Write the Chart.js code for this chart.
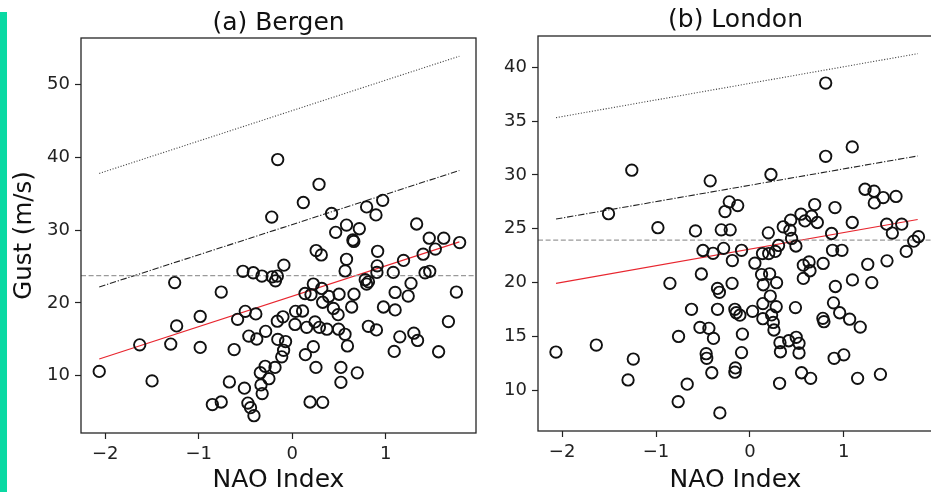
<!DOCTYPE html>
<html>
<head>
<meta charset="utf-8">
<script src="https://cdn.jsdelivr.net/npm/chart.js@4.4.0/dist/chart.umd.min.js"></script>
<style>
  html, body { margin: 0; padding: 0; background: #fff; overflow: hidden; width: 931px; height: 492px; }
  #edge { position: absolute; left: 0; top: 12px; width: 7px; height: 480px; background: #0ad9a3; }
  #ca { position: absolute; left: 0; top: 0; }
  #cb { position: absolute; left: 480px; top: 0; }
</style>
</head>
<body>
<div id="edge"></div>
<canvas id="ca" width="490" height="492"></canvas>
<canvas id="cb" width="470" height="492"></canvas>
<script>
// Winter NAO index vs. seasonal maximum gust, one point per winter
const bergenNao = [-2.065, -1.632, -1.50, -1.30, -1.258, -1.237, -0.985, -0.985, -0.855, -0.76,
  -0.76, -0.673, -0.622, -0.585, -0.528, -0.503, -0.512, -0.475, -0.465, -0.447,
  -0.41, -0.417, -0.39, -0.38, -0.342, -0.335, -0.322, -0.325, -0.29, -0.285,
  -0.25, -0.215, -0.22, -0.185, -0.18, -0.16, -0.156, -0.155, -0.16, -0.10,
  -0.09, -0.072, -0.093, -0.113, 0.029, 0.035, 0.11, 0.118, 0.136, 0.14,
  0.154, 0.19, 0.20, 0.225, 0.225, 0.243, 0.253, 0.255, 0.286, 0.29,
  0.31, 0.315, 0.325, 0.325, 0.37, 0.39, 0.42, 0.44, 0.464, 0.49,
  0.495, 0.50, 0.52, 0.52, 0.565, 0.564, 0.58, 0.58, 0.59, 0.635,
  0.648, 0.658, 0.66, 0.695, 0.717, 0.78, 0.795, 0.815, 0.795, 0.814,
  0.895, 0.90, 0.908, 0.905, 0.913, 0.967, 0.975, 1.08, 1.10, 1.10,
  1.09, 1.15, 1.19, 1.24, 1.27, 1.30, 1.33, 1.34, 1.40, 1.42,
  1.47, 1.465, 1.53, 1.565, 1.62, 1.67, 1.755, 1.79];
const bergenGust = [10.6, 14.25, 9.3, 14.35, 22.8, 16.85, 18.15, 13.9, 6.05, 6.4,
  21.5, 9.15, 13.6, 17.75, 24.35, 18.85, 8.3, 6.25, 15.45, 5.62,
  4.52, 24.15, 18.5, 15.05, 10.42, 8.75, 7.55, 23.7, 11.3, 16.1,
  9.6, 23.6, 31.8, 11.15, 23.05, 23.7, 39.7, 15.0, 17.5, 18.1,
  25.2, 14.7, 13.5, 12.6, 17.05, 18.85, 18.9, 33.8, 21.3, 12.9,
  16.65, 6.4, 21.15, 22.6, 14.0, 17.4, 11.15, 27.2, 36.3, 16.65,
  26.6, 22.0, 20.1, 6.35, 16.4, 20.9, 32.3, 19.25, 29.7, 18.4,
  16.4, 21.2, 11.15, 9.1, 24.4, 15.7, 26.0, 30.7, 14.1, 19.45,
  28.65, 28.45, 21.2, 10.4, 30.2, 23.2, 22.6, 22.9, 33.2, 16.8,
  32.1, 16.3, 25.1, 24.2, 27.1, 34.1, 19.45, 24.2, 21.45, 19.05,
  13.35, 15.35, 25.85, 20.95, 22.7, 15.85, 30.85, 14.85, 26.7, 24.15,
  24.35, 28.9, 27.4, 13.3, 28.9, 17.45, 21.5, 28.3];

const londonNao = [-2.066, -1.636, -1.506, -1.298, -1.258, -1.242, -0.98, -0.852, -0.76, -0.764,
  -0.668, -0.622, -0.58, -0.532, -0.517, -0.50, -0.466, -0.46, -0.437, -0.423,
  -0.393, -0.388, -0.406, -0.345, -0.325, -0.345, -0.32, -0.305, -0.28, -0.265,
  -0.22, -0.21, -0.187, -0.19, -0.16, -0.146, -0.13, -0.107, -0.155, -0.16,
  -0.089, -0.08, -0.089, 0.028, 0.053, 0.134, 0.20, 0.27, 0.305, 0.124,
  0.21, 0.142, 0.284, 0.217, 0.138, 0.28, 0.138, 0.231, 0.249, 0.256,
  0.196, 0.224, 0.32, 0.413, 0.493, 0.523, 0.325, 0.523, 0.316, 0.355,
  0.426, 0.434, 0.444, 0.49, 0.485, 0.544, 0.586, 0.657, 0.718, 0.69,
  0.55, 0.647, 0.569, 0.63, 0.64, 0.569, 0.78, 0.777, 0.788, 0.807,
  0.807, 0.87, 0.88, 0.98, 0.91, 0.89, 0.956, 0.897, 1.0, 0.906,
  1.062, 1.175, 1.09, 1.09, 1.092, 1.147, 1.226, 1.322, 1.325, 1.42,
  1.556, 1.255, 1.298, 1.39, 1.46, 1.457, 1.517, 1.617, 1.665, 1.745,
  1.795];
const londonGust = [13.55, 14.2, 26.4, 10.96, 30.44, 12.9, 25.1, 19.93, 15.0, 8.94,
  10.57, 17.52, 24.8, 15.84, 20.8, 22.98, 13.4, 12.97, 15.75, 29.45,
  22.72, 14.82, 11.63, 19.46, 19.1, 17.52, 7.9, 24.9, 23.18, 26.6,
  27.5, 24.9, 22.05, 19.93, 17.52, 17.2, 27.15, 16.98, 12.08, 11.68,
  23.0, 15.22, 13.5, 17.33, 21.8, 22.7, 22.7, 22.9, 23.45, 20.75,
  20.82, 19.8, 19.99, 18.75, 18.05, 17.76, 16.65, 17.0, 16.3, 15.6,
  24.62, 30.04, 14.42, 14.6, 14.92, 14.36, 13.58, 13.47, 10.65, 25.18,
  24.87, 25.8, 24.1, 23.4, 17.68, 26.35, 25.73, 26.17, 25.58, 27.25,
  11.63, 11.11, 21.62, 21.92, 21.1, 20.39, 21.78, 16.68, 16.37, 38.53,
  31.73, 24.56, 23.0, 23.0, 19.64, 18.12, 17.2, 12.97, 13.29, 26.97,
  16.6, 15.87, 32.6, 25.58, 20.25, 11.11, 28.67, 28.49, 27.4, 27.9,
  28.0, 21.7, 20.0, 11.48, 22.02, 25.43, 24.6, 25.43, 22.9, 23.85,
  24.26];

// Regression line and the two return-level lines, drawn over the NAO span
const fitNao = [-2.065, 1.787];
const bergenFit = [12.3, 28.4];
const bergenUpper = [22.2, 38.2];
const bergenExtreme = [37.8, 53.9];
const bergenThreshold = 23.75;
const londonFit = [19.93, 25.86];
const londonUpper = [25.9, 31.76];
const londonExtreme = [35.32, 41.26];
const londonThreshold = 23.94;

const xTicks = [-2, -1, 0, 1];
const bergenYTicks = [10, 20, 30, 40, 50];
const londonYTicks = [10, 15, 20, 25, 30, 35, 40];

Chart.defaults.font.family = '"DejaVu Sans", sans-serif';
Chart.defaults.color = '#1a1a1a';

const minusSign = v => String(v).replace('-', '\u2212');

// Box around the plot area and the panel heading
const panelFrame = {
  id: 'panelFrame',
  afterDatasetsDraw(chart, args, opts) {
    const { ctx, chartArea: a } = chart;
    ctx.save();
    ctx.strokeStyle = '#262626';
    ctx.lineWidth = 1.3;
    ctx.strokeRect(a.left, a.top, a.right - a.left, a.bottom - a.top);
    ctx.fillStyle = '#111';
    ctx.font = opts.size + 'px "DejaVu Sans"';
    ctx.textAlign = 'center';
    ctx.textBaseline = 'alphabetic';
    ctx.fillText(opts.text, (a.left + a.right) / 2 + opts.dx, opts.baseline);
    ctx.restore();
  }
};

function lineSet(xs, ys, color, width, dash) {
  return {
    data: xs.map((x, i) => ({ x, y: ys[i] })),
    showLine: true,
    borderColor: color,
    borderWidth: width,
    borderDash: dash,
    pointRadius: 0,
    fill: false
  };
}

function makePanel(canvas, p) {
  const scatter = {
    data: p.nao.map((x, i) => ({ x, y: p.gust[i] })),
    pointRadius: 5.7,
    pointBorderWidth: 1.9,
    borderColor: '#111',
    backgroundColor: 'rgba(0,0,0,0)',
    showLine: false
  };
  return new Chart(canvas, {
    type: 'scatter',
    data: {
      datasets: [
        scatter,
        lineSet([p.xMin, p.xMax], [p.threshold, p.threshold], '#9a9a9a', 1.3, [5, 2.6]),
        lineSet(fitNao, p.fit, '#e8262f', 1.2, []),
        lineSet(fitNao, p.upper, '#222', 1.1, [6.4, 1.8, 1.2, 1.8]),
        lineSet(fitNao, p.extreme, '#444', 1.1, [1.1, 1.7])
      ]
    },
    options: {
      responsive: false,
      animation: false,
      events: [],
      layout: { padding: { top: p.top, right: p.padRight, left: 0, bottom: 0 } },
      plugins: {
        legend: { display: false },
        tooltip: { enabled: false },
        panelFrame: { text: p.title, dx: p.titleDx, baseline: p.titleBaseline, size: 25 }
      },
      scales: {
        x: {
          type: 'linear',
          min: p.xMin,
          max: p.xMax,
          afterBuildTicks: s => { s.ticks = xTicks.map(v => ({ value: v })); },
          afterFit: s => { s.height = p.xHeight; },
          ticks: { callback: minusSign, font: { size: 18 }, color: '#222', padding: 5, maxRotation: 0 },
          grid: { display: true, drawOnChartArea: false, drawTicks: true, tickLength: 6, tickWidth: 1.2, tickColor: '#222' },
          border: { display: false },
          title: { display: true, text: 'NAO Index', font: { size: 25, lineHeight: 1.0 }, color: '#111', padding: { top: 0, bottom: -1 } }
        },
        y: {
          type: 'linear',
          min: p.yMin,
          max: p.yMax,
          afterBuildTicks: s => { s.ticks = p.yTicks.map(v => ({ value: v })); },
          afterFit: s => { s.width = p.yWidth; },
          ticks: { font: { size: 18 }, color: '#222', padding: 5 },
          grid: { display: true, drawOnChartArea: false, drawTicks: true, tickLength: 6, tickWidth: 1.2, tickColor: '#222' },
          border: { display: false },
          title: { display: !!p.yTitle, text: p.yTitle || '', font: { size: 24.5, lineHeight: 1.0 }, color: '#111', padding: { top: 12, bottom: 0 } }
        }
      }
    },
    plugins: [panelFrame]
  });
}

makePanel(document.getElementById('ca'), {
  nao: bergenNao, gust: bergenGust,
  fit: bergenFit, upper: bergenUpper, extreme: bergenExtreme, threshold: bergenThreshold,
  xMin: -2.26, xMax: 1.965, yMin: 2.14, yMax: 56.4, yTicks: bergenYTicks,
  top: 38, padRight: 14, yWidth: 81, xHeight: 59,
  title: '(a) Bergen', titleDx: 0, titleBaseline: 29.5, yTitle: 'Gust (m/s)'
});

makePanel(document.getElementById('cb'), {
  nao: londonNao, gust: londonGust,
  fit: londonFit, upper: londonUpper, extreme: londonExtreme, threshold: londonThreshold,
  xMin: -2.257, xMax: 1.95, yMin: 6.22, yMax: 42.9, yTicks: londonYTicks,
  top: 36, padRight: 17, yWidth: 58, xHeight: 61,
  title: '(b) London', titleDx: 0, titleBaseline: 27, yTitle: ''
});
</script>
</body>
</html>
